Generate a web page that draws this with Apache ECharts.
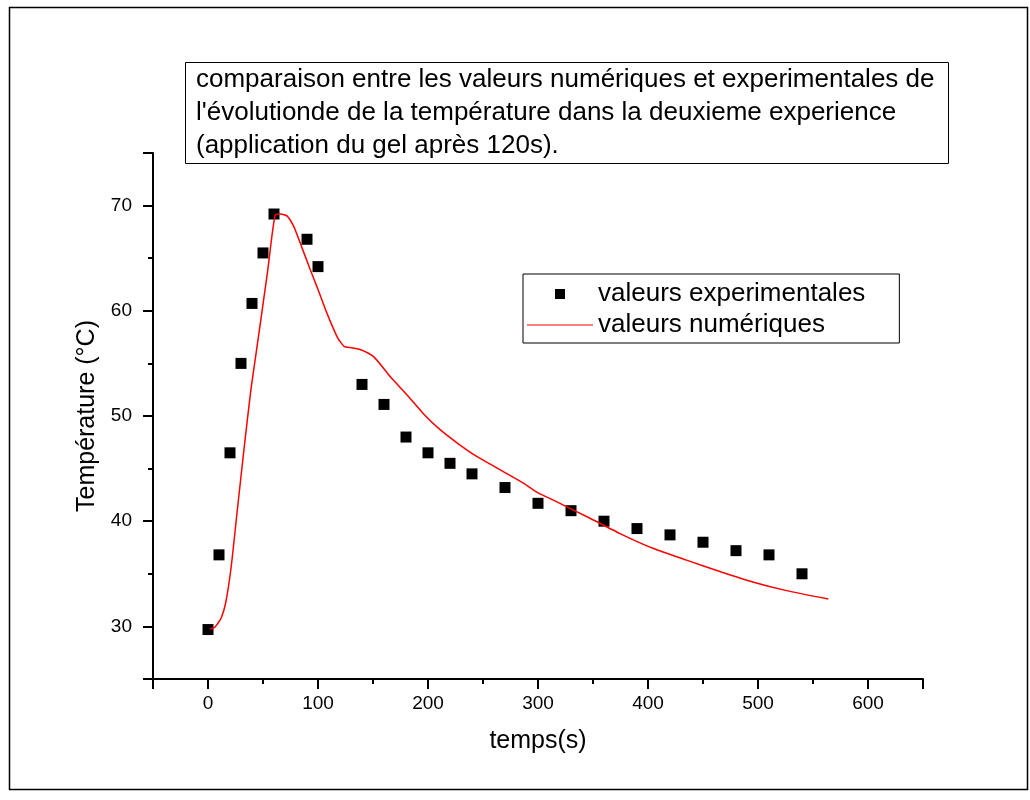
<!DOCTYPE html>
<html>
<head>
<meta charset="utf-8">
<script src="https://cdn.jsdelivr.net/npm/echarts@6/dist/echarts.min.js"></script>
<style>
  html, body { margin: 0; padding: 0; background: #fff; }
  #chart { width: 1030px; height: 800px; }
</style>
</head>
<body>
<div id="chart"></div>
<script>
// valeurs experimentales
var tempsExp = [0, 10, 20, 30, 40, 50, 60, 90, 100, 140, 160, 180, 200, 220, 240, 270, 300, 330, 360, 390, 420, 450, 480, 510, 540]
var tempExp = [29.7, 36.8, 46.5, 55.0, 60.7, 65.5, 69.2, 66.8, 64.2, 53.0, 51.1, 48.0, 46.5, 45.5, 44.5, 43.2, 41.7, 41.0, 40.0, 39.3, 38.7, 38.0, 37.2, 36.8, 35.0]

// valeurs numériques
var tempsNum = [2, 6, 9, 12, 16, 21, 27, 33, 39, 45, 54, 61, 66, 72, 78, 84, 93, 99, 108, 118, 124, 130, 139, 151, 166, 181, 196, 211, 227, 242, 257, 272, 287, 300, 314, 345, 375, 405, 435, 466, 496, 526, 564]
var tempNum = [29.75, 29.9, 30.3, 30.8, 32.2, 35.6, 41.4, 47.1, 52.5, 56.9, 63.6, 69.1, 69.2, 69.0, 68.0, 66.4, 63.9, 62.3, 59.8, 57.4, 56.6, 56.5, 56.3, 55.6, 53.7, 52.0, 50.2, 48.7, 47.4, 46.3, 45.4, 44.5, 43.6, 42.7, 42.0, 40.4, 38.8, 37.4, 36.3, 35.2, 34.2, 33.4, 32.6]

// graduations
var xMajor = [0, 100, 200, 300, 400, 500, 600]
var xMinor = [-50, 50, 150, 250, 350, 450, 550, 650]
var yMajor = [30, 40, 50, 60, 70]
var yMinor = [25, 35, 45, 55, 65, 75]

var titre = "comparaison entre les valeurs numériques et experimentales de\n" +
  "l'évolutionde de la température dans la deuxieme experience\n" +
  "(application du gel après 120s)."

var police = 'Liberation Sans'
var transparent = 'rgba(0,0,0,0)'

function paires (xs, ys) {
  var out = []
  for (var i = 0; i < xs.length; i++) {
    out.push([xs[i], ys[i]])
  }
  return out
}

// axe qui ne dessine que des graduations courtes
function graduations (min, max, pos, valeurs, longueur) {
  return {
    type: 'value', min: min, max: max, position: pos, gridIndex: 0,
    axisLine: { show: false, onZero: false },
    axisTick: { show: true, length: longueur, customValues: valeurs, lineStyle: { color: '#000', width: 2 } },
    axisLabel: { show: false },
    splitLine: { show: false }
  }
}

// axes transparents sur les côtés opposés (sans eux les graduations principales disparaissent)
var hautCache = {
  type: 'value', min: -50, max: 650, position: 'top', gridIndex: 0,
  axisLine: { show: true, onZero: false, lineStyle: { color: transparent, width: 2 } },
  axisTick: { show: true, length: 10, lineStyle: { color: transparent, width: 2 } },
  axisLabel: { show: false },
  splitLine: { show: false }
}
var droiteCache = {
  type: 'value', min: 25, max: 75, position: 'right', gridIndex: 0,
  axisLine: { show: true, onZero: false, lineStyle: { color: transparent, width: 2 } },
  axisTick: { show: true, length: 10, customValues: yMajor, lineStyle: { color: transparent, width: 2 } },
  axisLabel: { show: true, customValues: yMajor, color: transparent },
  splitLine: { show: false }
}

var axeX = {
  type: 'value',
  min: -50,
  max: 650,
  splitNumber: 7,
  position: 'bottom',
  axisLine: { show: true, onZero: false, lineStyle: { color: '#000', width: 2 } },
  axisTick: { show: true, length: 10, lineStyle: { color: '#000', width: 2 } },
  axisLabel: { show: true, customValues: xMajor, margin: 15, color: '#000', fontSize: 19, fontFamily: police },
  splitLine: { show: false },
  name: 'temps(s)',
  nameLocation: 'middle',
  nameGap: 50,
  nameTextStyle: { color: '#000', fontSize: 25, fontFamily: police }
}

var axeY = {
  type: 'value',
  min: 25,
  max: 75,
  splitNumber: 5,
  position: 'left',
  axisLine: { show: true, onZero: false, lineStyle: { color: '#000', width: 2 } },
  axisTick: { show: true, length: 10, lineStyle: { color: '#000', width: 2 } },
  axisLabel: {
    show: true, margin: 21, color: '#000', fontSize: 19, fontFamily: police,
    formatter: function (v) { return yMajor.indexOf(v) >= 0 ? String(v) : '' }
  },
  splitLine: { show: false },
  name: 'Température (°C)',
  nameLocation: 'middle',
  nameGap: 52,
  nameTextStyle: { color: '#000', fontSize: 25, fontFamily: police }
}

var option = {
  backgroundColor: '#fff',
  animation: false,
  title: {
    text: titre,
    left: 185,
    top: 62,
    padding: [1, 14, 2, 11],
    borderColor: '#000',
    borderWidth: 1,
    textStyle: { color: '#000', fontSize: 26, lineHeight: 33, fontWeight: 'normal', fontFamily: police }
  },
  legend: {
    orient: 'vertical',
    left: 523,
    top: 274,
    padding: [7, 34, 5, 4],
    borderColor: '#000',
    borderWidth: 1,
    itemWidth: 66,
    itemHeight: 10,
    itemGap: 5,
    textStyle: { color: '#000', fontSize: 26, lineHeight: 24, fontFamily: police },
    data: [
      { name: 'valeurs experimentales', icon: 'path://M0 0H10V10H0Z', itemStyle: { color: '#000', opacity: 1 } },
      { name: 'valeurs numériques', icon: 'path://M0 0H66V1.2H0Z' }
    ]
  },
  grid: { left: 153, right: 107, top: 153, bottom: 121, containLabel: false },
  xAxis: [
    axeX,
    graduations(-50, 650, 'bottom', xMinor, 5),
    hautCache
  ],
  yAxis: [
    axeY,
    graduations(25, 75, 'left', yMinor, 5),
    droiteCache
  ],
  series: [
    {
      name: 'valeurs experimentales',
      type: 'scatter',
      symbol: 'rect',
      symbolSize: 11,
      itemStyle: { color: '#000', opacity: 1 },
      data: paires(tempsExp, tempExp)
    },
    {
      name: 'valeurs numériques',
      type: 'line',
      symbol: 'none',
      showSymbol: false,
      smooth: 0.2,
      lineStyle: { color: '#ff0000', width: 1.5 },
      itemStyle: { color: '#ff0000' },
      data: paires(tempsNum, tempNum)
    }
  ],
  graphic: [
    {
      type: 'rect',
      shape: { x: 9.5, y: 7.5, width: 1018, height: 782 },
      style: { fill: null, stroke: '#000', lineWidth: 1.5 },
      silent: true
    }
  ]
}

var myChart = echarts.init(document.getElementById('chart'))
myChart.setOption(option)
</script>
</body>
</html>
